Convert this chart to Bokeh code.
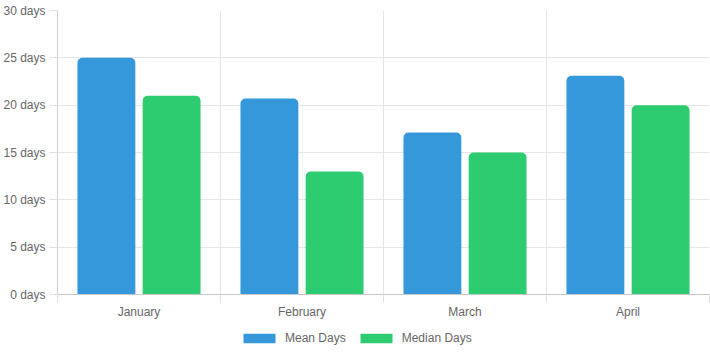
import numpy as np
from bokeh.plotting import figure
from bokeh.layouts import column
from bokeh.models import (ColumnDataSource, Range1d, FixedTicker, SingleIntervalTicker,
                          PrintfTickFormatter, Legend, LegendItem)
from bokeh.transform import dodge
from bokeh.embed import file_html
from bokeh.resources import INLINE

months = ["January", "February", "March", "April"]
mean_days = [25, 20.7, 17.1, 23.1]
median_days = [21, 13, 15, 20]
series_names = ["Mean Days", "Median Days"]
series_colors = ["#3498db", "#2ecc71"]

centers = np.arange(len(months)) + 0.5
src = ColumnDataSource(dict(x=centers, month=months, mean=mean_days, median=median_days))

FONT = "Liberation Sans"
TXT = "#666666"

p = figure(width=710, height=325, output_backend="svg", toolbar_location=None,
           x_range=Range1d(0, len(months)), y_range=Range1d(0, 30),
           min_border_left=56, min_border_right=1, min_border_top=10, min_border_bottom=31)
p.outline_line_color = None

bw = 0.355
offsets = [-0.2, 0.2]
fields = ["mean", "median"]
for off, fld, col in zip(offsets, fields, series_colors):
    p.vbar(x=dodge("x", off, range=p.x_range), top=fld, width=bw, source=src,
           fill_color=col, line_color=None, border_radius=(5, 5, 0, 0))

# x axis: labels at category centers, tick marks at boundaries
bounds = list(range(len(months) + 1))
p.xaxis.ticker = FixedTicker(ticks=list(centers), minor_ticks=bounds)
p.xaxis.major_label_overrides = {float(c): m for c, m in zip(centers, months)}
p.xaxis.major_tick_line_color = None
p.xaxis.minor_tick_out = 8
p.xaxis.minor_tick_in = 0
p.xaxis.minor_tick_line_color = "#e0e0e0"
p.xaxis.axis_line_color = "#c8c8c8"
p.xaxis.major_label_standoff = 2
p.xgrid.ticker = FixedTicker(ticks=bounds)
p.xgrid.grid_line_color = "#e6e6e6"

# y axis
p.yaxis.ticker = SingleIntervalTicker(interval=5)
p.yaxis.formatter = PrintfTickFormatter(format="%d days")
p.yaxis.major_tick_out = 8
p.yaxis.major_tick_in = 0
p.yaxis.major_tick_line_color = "#e0e0e0"
p.yaxis.minor_tick_line_color = None
p.yaxis.axis_line_color = "#d0d0d0"
p.yaxis.major_label_standoff = 4
p.ygrid.grid_line_color = "#e6e6e6"

for ax in (p.xaxis, p.yaxis):
    ax.major_label_text_font = FONT
    ax.major_label_text_font_size = "12px"
    ax.major_label_text_color = TXT

# legend strip below the chart (its bars lie far outside its visible ranges)
p2 = figure(width=710, height=30, output_backend="svg", toolbar_location=None,
            x_range=Range1d(1000, 1001), y_range=Range1d(1000, 1001),
            x_axis_location=None, y_axis_location=None,
            min_border_left=56, min_border_right=1, min_border_top=0, min_border_bottom=0)
p2.outline_line_color = None
p2.xgrid.visible = False
p2.ygrid.visible = False
items = []
for fld, col, name in zip(fields, series_colors, series_names):
    r = p2.vbar(x="x", top=fld, width=bw, source=src,
                fill_color=col, line_color=None)
    items.append(LegendItem(label=name, renderers=[r]))

lg = Legend(items=items)
lg.orientation = "horizontal"
lg.location = (182, 7)
lg.padding = 0
lg.margin = 0
lg.spacing = 10
lg.label_standoff = 6
lg.glyph_width = 40
lg.glyph_height = 12
lg.label_height = 20
lg.border_line_color = None
lg.background_fill_alpha = 0
lg.label_text_font = FONT
lg.label_text_font_size = "12px"
lg.label_text_color = TXT
p2.add_layout(lg, "center")

layout = column(p, p2, spacing=0)
open("out.html", "w").write(file_html(layout, INLINE))
